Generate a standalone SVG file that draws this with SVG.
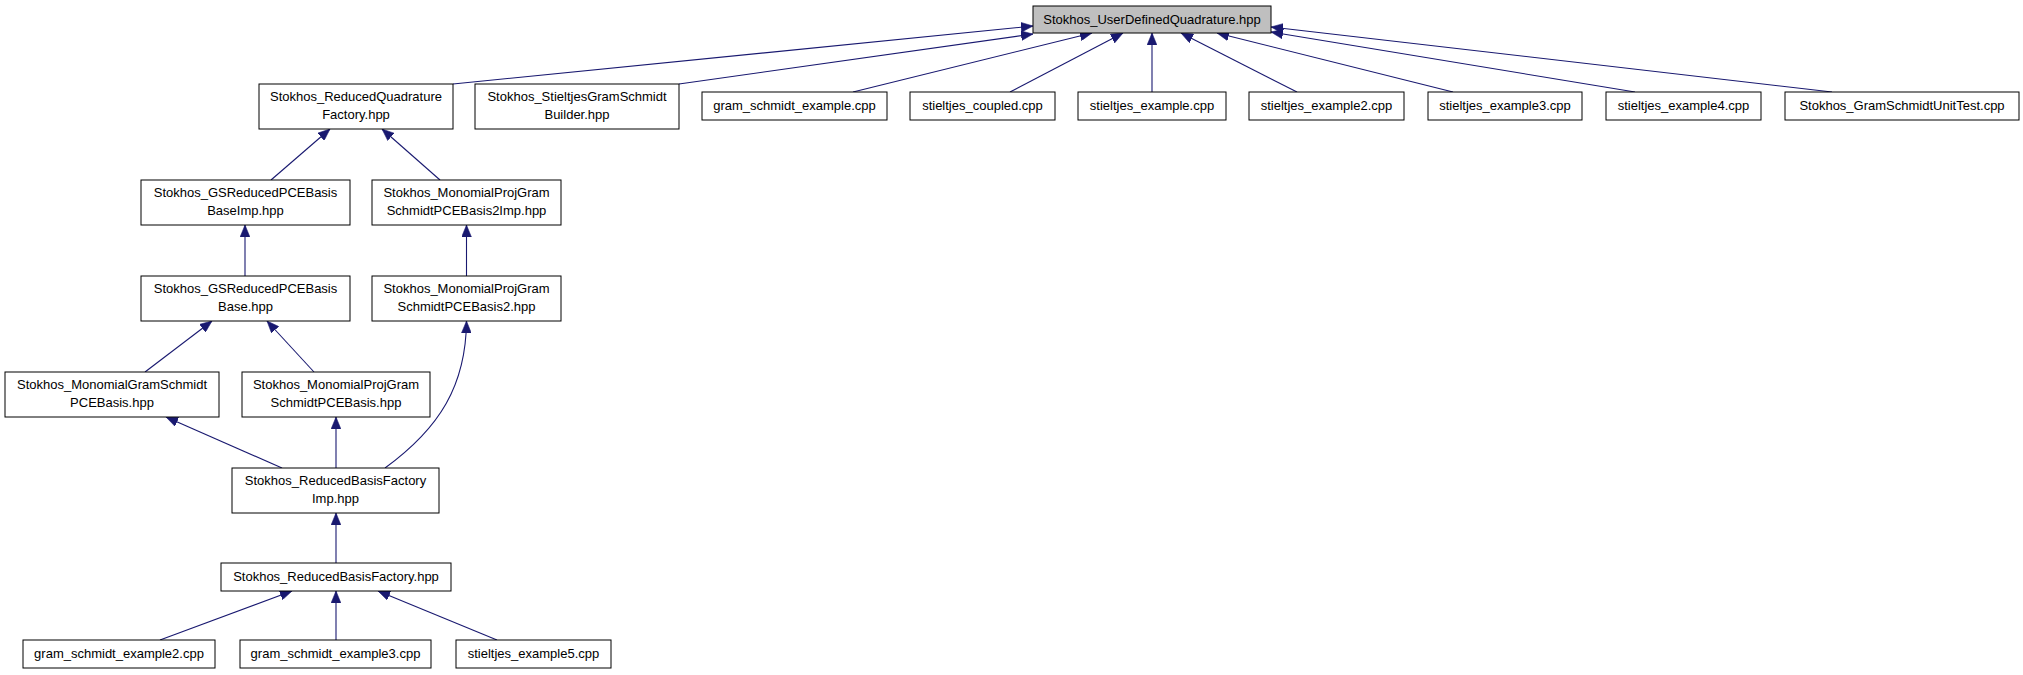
<svg xmlns="http://www.w3.org/2000/svg" width="2023" height="675" viewBox="0 0 2023 675">
<style>
.n rect{fill:#ffffff;stroke:#000000;stroke-width:1}
.n.root rect{fill:#bfbfbf}
.n text{font-family:"Liberation Sans",Arial,Helvetica,sans-serif;font-size:13px;fill:#000000;text-anchor:middle}
#edges path{fill:none;stroke:#191970;stroke-width:1.1;marker-end:url(#arr)}
</style>
<defs>
<marker id="arr" markerUnits="userSpaceOnUse" markerWidth="12" markerHeight="10" viewBox="0 0 11 9" refX="11" refY="4.5" orient="auto">
<path d="M0,0 L11,4.5 L0,9 z" fill="#191970" stroke="#191970" stroke-width="0.5"/>
</marker>
</defs>
<rect width="2023" height="675" fill="#ffffff"/>
<g id="edges">
<path d="M453,84 L1033,26"/>
<path d="M679,84 L1033,34"/>
<path d="M853,92 L1092,33"/>
<path d="M1010,92 L1123,33"/>
<path d="M1152,92 L1152,33"/>
<path d="M1297,92 L1181,33"/>
<path d="M1453,92 L1217,33"/>
<path d="M1635,92 L1271,32"/>
<path d="M1832,92 L1271,27"/>
<path d="M271,180 L330,129"/>
<path d="M440,180 L382,129"/>
<path d="M245,276 L245,225"/>
<path d="M466.5,276 L466.5,225"/>
<path d="M145,372 L212,321"/>
<path d="M314,372 L267,321"/>
<path d="M282,468 L166,417"/>
<path d="M336,468 L336,417"/>
<path d="M385,468 C440,428 466,385 466.5,321"/>
<path d="M336,563 L336,513"/>
<path d="M160,640 L292,591"/>
<path d="M336,640 L336,591"/>
<path d="M497,640 L378,591"/>
</g>
<g id="node-root" class="n root"><rect x="1033" y="6" width="238" height="27"/><text x="1152" y="23.5">Stokhos_UserDefinedQuadrature.hpp</text></g>
<g id="node-rqf" class="n"><rect x="259" y="84" width="194" height="45"/><text x="356" y="101">Stokhos_ReducedQuadrature</text><text x="356" y="119">Factory.hpp</text></g>
<g id="node-sgsb" class="n"><rect x="475" y="84" width="204" height="45"/><text x="577" y="101">Stokhos_StieltjesGramSchmidt</text><text x="577" y="119">Builder.hpp</text></g>
<g id="node-gse" class="n"><rect x="702" y="92" width="185" height="28"/><text x="794.5" y="110">gram_schmidt_example.cpp</text></g>
<g id="node-sc" class="n"><rect x="910" y="92" width="145" height="28"/><text x="982.5" y="110">stieltjes_coupled.cpp</text></g>
<g id="node-se" class="n"><rect x="1078" y="92" width="148" height="28"/><text x="1152" y="110">stieltjes_example.cpp</text></g>
<g id="node-se2" class="n"><rect x="1249" y="92" width="155" height="28"/><text x="1326.5" y="110">stieltjes_example2.cpp</text></g>
<g id="node-se3" class="n"><rect x="1428" y="92" width="154" height="28"/><text x="1505" y="110">stieltjes_example3.cpp</text></g>
<g id="node-se4" class="n"><rect x="1606" y="92" width="155" height="28"/><text x="1683.5" y="110">stieltjes_example4.cpp</text></g>
<g id="node-gsut" class="n"><rect x="1785" y="92" width="234" height="28"/><text x="1902" y="110">Stokhos_GramSchmidtUnitTest.cpp</text></g>
<g id="node-gsbi" class="n"><rect x="141" y="180" width="209" height="45"/><text x="245.5" y="197">Stokhos_GSReducedPCEBasis</text><text x="245.5" y="215">BaseImp.hpp</text></g>
<g id="node-mp2i" class="n"><rect x="372" y="180" width="189" height="45"/><text x="466.5" y="197">Stokhos_MonomialProjGram</text><text x="466.5" y="215">SchmidtPCEBasis2Imp.hpp</text></g>
<g id="node-gsb" class="n"><rect x="141" y="276" width="209" height="45"/><text x="245.5" y="293">Stokhos_GSReducedPCEBasis</text><text x="245.5" y="311">Base.hpp</text></g>
<g id="node-mp2" class="n"><rect x="372" y="276" width="189" height="45"/><text x="466.5" y="293">Stokhos_MonomialProjGram</text><text x="466.5" y="311">SchmidtPCEBasis2.hpp</text></g>
<g id="node-mgs" class="n"><rect x="5" y="372" width="214" height="45"/><text x="112" y="389">Stokhos_MonomialGramSchmidt</text><text x="112" y="407">PCEBasis.hpp</text></g>
<g id="node-mpgs" class="n"><rect x="242" y="372" width="188" height="45"/><text x="336" y="389">Stokhos_MonomialProjGram</text><text x="336" y="407">SchmidtPCEBasis.hpp</text></g>
<g id="node-rbfi" class="n"><rect x="232" y="468" width="207" height="45"/><text x="335.5" y="485">Stokhos_ReducedBasisFactory</text><text x="335.5" y="503">Imp.hpp</text></g>
<g id="node-rbf" class="n"><rect x="221" y="563" width="230" height="28"/><text x="336" y="581">Stokhos_ReducedBasisFactory.hpp</text></g>
<g id="node-gse2" class="n"><rect x="23" y="640" width="192" height="28"/><text x="119" y="658">gram_schmidt_example2.cpp</text></g>
<g id="node-gse3" class="n"><rect x="240" y="640" width="191" height="28"/><text x="335.5" y="658">gram_schmidt_example3.cpp</text></g>
<g id="node-se5" class="n"><rect x="456" y="640" width="155" height="28"/><text x="533.5" y="658">stieltjes_example5.cpp</text></g>
</svg>
